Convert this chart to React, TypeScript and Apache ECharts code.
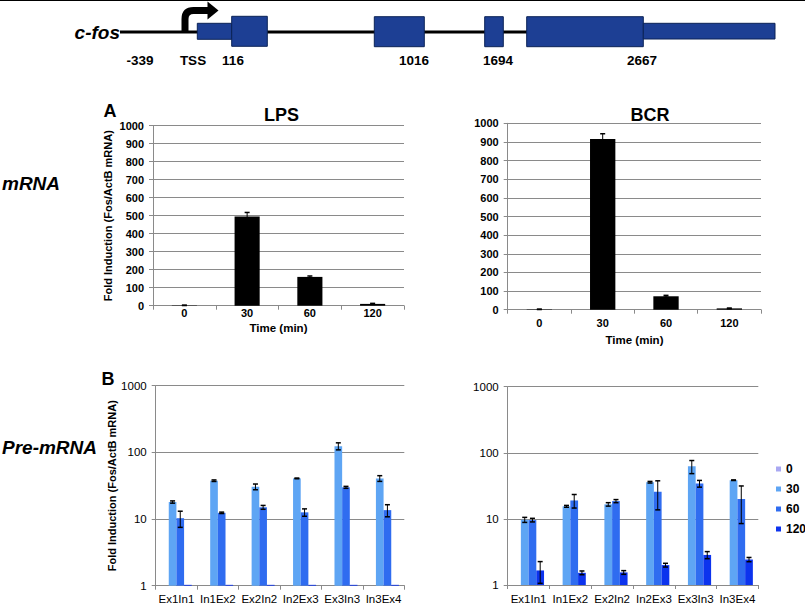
import React, { useEffect, useRef } from 'react';
import * as echarts from 'echarts';

// ---------- data ----------
const timeLabels = ['0', '30', '60', '120'];
const lpsMrna = [2, 495, 160, 10];
const lpsMrnaErr = [1, 23, 5, 3];
const bcrMrna = [2, 916, 72, 7];
const bcrMrnaErr = [1, 28, 5, 2];

const regions = ['Ex1In1', 'In1Ex2', 'Ex2In2', 'In2Ex3', 'Ex3In3', 'In3Ex4'];
const seriesNames = ['0', '30', '60', '120'];

const lpsPre0 = [1, 1, 1, 1, 1, 1];
const lpsPre30 = [18, 37.6, 30.5, 40.7, 124, 40.7];
const lpsPre60 = [10.3, 12.4, 15, 12.6, 29.9, 13.6];
const lpsPre120 = [1.03, 1.03, 1.03, 1.03, 1.03, 1.03];
const lpsPre0Err = [0, 0, 0, 0, 0, 0];
const lpsPre30Err = [0.7, 1, 3, 0.5, 15, 4];
const lpsPre60Err = [2.8, 0.3, 1, 1.6, 1, 2.8];
const lpsPre120Err = [0, 0, 0, 0, 0, 0];

const bcrPre0 = [1, 1, 1, 1, 1, 1];
const bcrPre30 = [9.7, 15.5, 16.6, 35.9, 62.4, 38.5];
const bcrPre60 = [9.6, 19, 18.6, 25.7, 34.2, 20];
const bcrPre120 = [1.66, 1.53, 1.55, 2.0, 2.85, 2.43];
const bcrPre0Err = [0, 0, 0, 0, 0, 0];
const bcrPre30Err = [0.85, 0.5, 1, 1, 14, 0.4];
const bcrPre60Err = [0.6, 4.4, 1, 12, 4, 11.5];
const bcrPre120Err = [0.6, 0.1, 0.1, 0.13, 0.35, 0.18];

const geneLabels = ['-339', 'TSS', '116', '1016', '1694', '2667'];

// ---------- styles ----------
const FONT = "'Liberation Sans', Arial, Helvetica, sans-serif";
const preColors = ['#a9a8f2', '#5ea5f4', '#2f6cf0', '#0c33ee'];
const gridGray = '#8a8a8a';
const exonFill = '#1d3f94';
const exonStroke = '#0c2357';

echarts.graphic.registerShape(
  'tssArrow',
  echarts.graphic.extendPath('M185 31 L185 19 Q185 10.5 193.5 10.5 L209 10.5', {})
);

function errorSeries(
  gridIdx: number,
  means: number[],
  errs: number[],
  k: number,
  n: number,
  catGap: number,
  floor: number
) {
  return {
    type: 'custom',
    name: 'err' + gridIdx + '_' + k,
    xAxisIndex: gridIdx,
    yAxisIndex: gridIdx,
    silent: true,
    z: 10,
    data: means.map((m, i) => [i, Math.max(m - errs[i], floor), m + errs[i]]),
    encode: { x: 0, y: [1, 2] },
    renderItem: (params: any, api: any) => {
      const i = api.value(0);
      const lo = api.value(1);
      const hi = api.value(2);
      if (!(hi > lo)) return null;
      const band = api.size([1, 0], [i, hi])[0];
      const barW = (band * (1 - catGap)) / n;
      const off = (k - (n - 1) / 2) * barW;
      const pHi = api.coord([i, hi]);
      const pLo = api.coord([i, lo]);
      const x = pHi[0] + off;
      const cap = 2.5;
      const st = { stroke: '#000', lineWidth: 1 };
      return {
        type: 'group',
        children: [
          { type: 'line', shape: { x1: x, y1: pHi[1], x2: x, y2: pLo[1] }, style: st },
          { type: 'line', shape: { x1: x - cap, y1: pHi[1], x2: x + cap, y2: pHi[1] }, style: { stroke: '#000', lineWidth: 1.5 } },
          { type: 'line', shape: { x1: x - cap, y1: pLo[1], x2: x + cap, y2: pLo[1] }, style: { stroke: '#000', lineWidth: 1.5 } },
        ],
      };
    },
  };
}

function catAxis(gridIndex: number, data: string[], margin: number, size: number, weight: string) {
  return {
    type: 'category',
    gridIndex,
    data,
    axisLine: { show: true, lineStyle: { color: gridGray, width: 1 } },
    axisTick: { show: true, length: 4, lineStyle: { color: gridGray } },
    axisLabel: { color: '#000', fontSize: size, fontWeight: weight, margin, fontFamily: FONT, interval: 0 },
    splitLine: { show: false },
  };
}

function linAxis(gridIndex: number) {
  return {
    type: 'value',
    gridIndex,
    min: 0,
    max: 1000,
    interval: 100,
    axisLine: { show: true, lineStyle: { color: gridGray, width: 1 } },
    axisTick: { show: true, length: 4, lineStyle: { color: gridGray } },
    axisLabel: { color: '#000', fontSize: 11, fontWeight: 'bold', margin: 9, fontFamily: FONT, formatter: (v: number) => String(Math.round(v)) },
    splitLine: { show: true, lineStyle: { color: gridGray, width: 1 } },
  };
}

function logAxis(gridIndex: number) {
  return {
    type: 'log',
    gridIndex,
    logBase: 10,
    min: 1,
    max: 1000,
    axisLine: { show: true, lineStyle: { color: gridGray, width: 1 } },
    axisTick: { show: true, length: 4, lineStyle: { color: gridGray } },
    axisLabel: { color: '#000', fontSize: 11.5, margin: 9, fontFamily: FONT, formatter: (v: number) => String(Math.round(v)) },
    splitLine: { show: true, lineStyle: { color: gridGray, width: 1 } },
  };
}

export default function App() {
  const ref = useRef<HTMLDivElement>(null);

  useEffect(() => {
    if (!ref.current) return;
    const chart = echarts.init(ref.current, undefined, { renderer: 'svg' });

    const preGap = 0.26;
    const mGap = 0.6;

    const lpsPreSets = [lpsPre0, lpsPre30, lpsPre60, lpsPre120];
    const lpsPreErrs = [lpsPre0Err, lpsPre30Err, lpsPre60Err, lpsPre120Err];
    const bcrPreSets = [bcrPre0, bcrPre30, bcrPre60, bcrPre120];
    const bcrPreErrs = [bcrPre0Err, bcrPre30Err, bcrPre60Err, bcrPre120Err];

    const series: any[] = [
      {
        type: 'bar', name: 'LPS mRNA', xAxisIndex: 0, yAxisIndex: 0, data: lpsMrna,
        itemStyle: { color: '#000' }, barCategoryGap: '60%',
      },
      errorSeries(0, lpsMrna, lpsMrnaErr, 0, 1, mGap, 0),
      {
        type: 'bar', name: 'BCR mRNA', xAxisIndex: 1, yAxisIndex: 1, data: bcrMrna,
        itemStyle: { color: '#000' }, barCategoryGap: '60%',
      },
      errorSeries(1, bcrMrna, bcrMrnaErr, 0, 1, mGap, 0),
    ];

    seriesNames.forEach((nm, k) => {
      series.push({
        type: 'bar', name: nm, xAxisIndex: 2, yAxisIndex: 2, data: lpsPreSets[k],
        itemStyle: { color: preColors[k] }, barGap: '0%', barCategoryGap: '26%',
      });
    });
    seriesNames.forEach((nm, k) => {
      series.push({
        type: 'bar', name: nm, xAxisIndex: 3, yAxisIndex: 3, data: bcrPreSets[k],
        itemStyle: { color: preColors[k] }, barGap: '0%', barCategoryGap: '26%',
      });
    });
    seriesNames.forEach((nm, k) => {
      series.push(errorSeries(2, lpsPreSets[k], lpsPreErrs[k], k, 4, preGap, 1));
      series.push(errorSeries(3, bcrPreSets[k], bcrPreErrs[k], k, 4, preGap, 1));
    });

    const txt = (x: number, y: number, text: string, size: number, extra: any = {}) => ({
      type: 'text',
      x,
      y,
      style: {
        text,
        fill: '#000',
        font: `${extra.italic ? 'italic ' : ''}bold ${size}px ${FONT}`,
        align: extra.align || 'center',
        verticalAlign: 'middle',
      },
      rotation: extra.rotation || 0,
    });

    const rect = (x: number, y: number, w: number, h: number) => ({
      type: 'rect',
      shape: { x, y, width: w, height: h },
      style: { fill: exonFill, stroke: exonStroke, lineWidth: 1 },
      z: 5,
    });

    const geneLabelX = [140, 193, 233, 414, 498, 642];

    const graphic: any[] = [
      { type: 'line', shape: { x1: 0, y1: 0.5, x2: 805, y2: 0.5 }, style: { stroke: '#000', lineWidth: 1 } },
      // gene diagram
      { type: 'line', shape: { x1: 120, y1: 32, x2: 660, y2: 32 }, style: { stroke: '#000', lineWidth: 3 }, z: 1 },
      { type: 'tssArrow', x: 0, y: 0, style: { fill: 'none', stroke: '#000', lineWidth: 7 }, z: 2 },
      { type: 'polygon', shape: { points: [[207.5, 1.5], [218.5, 10.5], [207.5, 19.5]] }, style: { fill: '#000' }, z: 2 },
      rect(197.3, 23.3, 34.4, 16),
      rect(231.7, 16.3, 35.6, 30),
      rect(374.3, 16.7, 50, 30),
      rect(484.7, 16.7, 18.6, 30),
      rect(526.7, 16.7, 116.6, 30),
      rect(643.3, 23.3, 131.7, 15.7),
      txt(120, 32, 'c-fos', 19, { italic: true, align: 'right' }),
      ...geneLabels.map((l, i) => txt(geneLabelX[i], 60, l, 13.5)),
      // side labels
      txt(2, 183, 'mRNA', 19, { italic: true, align: 'left' }),
      txt(2, 447, 'Pre-mRNA', 19, { italic: true, align: 'left' }),
      // panel letters
      txt(110, 111, 'A', 18),
      txt(108, 379, 'B', 18),
      // titles
      txt(281.5, 115, 'LPS', 18),
      txt(650, 115, 'BCR', 18),
      txt(278.5, 327.5, 'Time (min)', 11.5),
      txt(634.5, 340, 'Time (min)', 11.5),
      // y axis titles
      txt(108, 215.7, 'Fold Induction (Fos/ActB mRNA)', 11, { rotation: Math.PI / 2 }),
      txt(111.7, 485.7, 'Fold Induction (Fos/ActB mRNA)', 11, { rotation: Math.PI / 2 }),
    ];

    const option: any = {
      animation: false,
      backgroundColor: '#fff',
      textStyle: { fontFamily: FONT },
      grid: [
        { left: 153, top: 125.7, width: 251, height: 180 },
        { left: 507.7, top: 123.3, width: 253.3, height: 186.4 },
        { left: 155.7, top: 385.7, width: 248.6, height: 200 },
        { left: 507.7, top: 386.7, width: 250.6, height: 200 },
      ],
      xAxis: [
        catAxis(0, timeLabels, 2, 11, 'bold'),
        catAxis(1, timeLabels, 8, 11, 'bold'),
        catAxis(2, regions, 7, 11.5, 'normal'),
        catAxis(3, regions, 8, 11.5, 'normal'),
      ],
      yAxis: [linAxis(0), linAxis(1), logAxis(2), logAxis(3)],
      legend: {
        data: seriesNames,
        orient: 'vertical',
        left: 771,
        top: 457,
        itemWidth: 5,
        itemHeight: 5,
        itemGap: 6,
        icon: 'rect',
        selectedMode: false,
        textStyle: { fontSize: 12, fontWeight: 'bold', color: '#000', lineHeight: 14, fontFamily: FONT },
      },
      series,
      graphic,
    };

    chart.setOption(option);
    return () => chart.dispose();
  }, []);

  return (
    <div
      ref={ref}
      style={{ position: 'absolute', left: 0, top: 0, width: 805, height: 605, background: '#fff' }}
    />
  );
}
